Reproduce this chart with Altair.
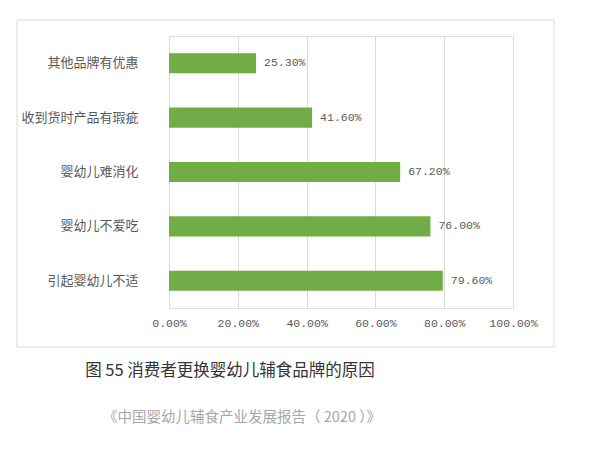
import altair as alt
import pandas as pd

categories = ["其他品牌有优惠", "收到货时产品有瑕疵", "婴幼儿难消化", "婴幼儿不爱吃", "引起婴幼儿不适"]
values = [25.30, 41.60, 67.20, 76.00, 79.60]
x_ticks = [0, 20, 40, 60, 80, 100]
caption = "图 55  消费者更换婴幼儿辅食品牌的原因"
source = "《中国婴幼儿辅食产业发展报告（ 2020 ）》"

df = pd.DataFrame({"reason": categories, "pct": values})
df["label"] = [f"{v:.2f}%" for v in values]

W, H = 344, 272
green = "#70AD47"
grey_txt = "#595959"

xscale = alt.Scale(domain=[0, 100])
yscale = alt.Scale(domain=categories, paddingInner=0.63, paddingOuter=0.315)

base = alt.Chart(df)

frame = base.mark_rect(fill=None, stroke="#d9d9d9", strokeWidth=1).encode(
    x=alt.value(-152), x2=alt.value(385), y=alt.value(-16), y2=alt.value(311)
).transform_filter(alt.datum.reason == categories[0])

bars = base.mark_bar(color=green).encode(
    x=alt.X("pct:Q", scale=xscale,
            axis=alt.Axis(values=x_ticks, labelExpr="format(datum.value, '.2f') + '%'",
                          title=None, domain=False, ticks=False, grid=True,
                          gridColor="#d9d9d9", labelFont="Liberation Mono",
                          labelFontSize=11.5, labelColor=grey_txt, labelPadding=9,
                          labelOverlap=False, labelFlush=False)),
    y=alt.Y("reason:N", scale=yscale, sort=categories,
            axis=alt.Axis(title=None, domain=False, ticks=False, labelFont="Noto Sans CJK SC",
                          labelFontSize=13, labelColor=grey_txt, labelPadding=31)),
)

labels = base.mark_text(align="left", dx=8, font="Liberation Mono", fontSize=11.5,
                        color=grey_txt).encode(
    x=alt.X("pct:Q", scale=xscale),
    y=alt.Y("reason:N", scale=yscale, sort=categories),
    text="label:N",
)

cap = base.mark_text(font="Noto Sans CJK SC", fontSize=16.5, color="#333333",
                     align="center", baseline="middle").encode(
    x=alt.value(61), y=alt.value(335), text=alt.value(caption)
).transform_filter(alt.datum.reason == categories[0])

src = base.mark_text(font="Noto Sans CJK SC", fontSize=14.5, color="#a6a6a6",
                     align="center", baseline="middle").encode(
    x=alt.value(73), y=alt.value(382), text=alt.value(source)
).transform_filter(alt.datum.reason == categories[0])

chart = alt.layer(frame, bars, labels, cap, src).properties(
    width=W, height=H,
    autosize=alt.AutoSizeParams(type="none"),
    padding={"left": 161, "top": 28, "right": 79, "bottom": 135},
).configure_view(stroke=None).configure(background="white")

chart.save("out.html", embed_options={"renderer": "svg", "actions": False})
